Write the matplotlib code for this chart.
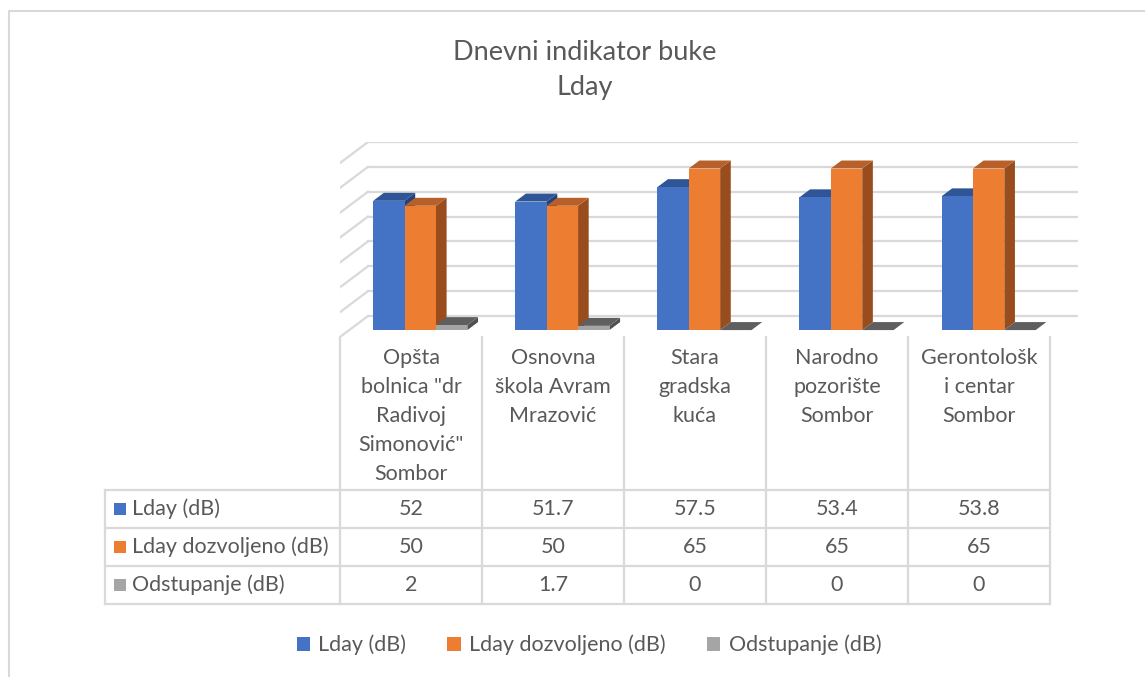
import numpy as np
import matplotlib
matplotlib.use("Agg")
import matplotlib.pyplot as plt
from matplotlib.patches import Polygon, Rectangle, Patch

plt.rcParams['font.family'] = ['Lato', 'DejaVu Sans']

# podaci
kategorije = ['Opšta\nbolnica "dr\nRadivoj\nSimonović"\nSombor',
              'Osnovna\nškola Avram\nMrazović',
              'Stara\ngradska\nkuća',
              'Narodno\npozorište\nSombor',
              'Gerontološk\ni centar\nSombor']
serije = ['Lday (dB)', 'Lday dozvoljeno (dB)', 'Odstupanje (dB)']
lday = [52, 51.7, 57.5, 53.4, 53.8]
lday_dozvoljeno = [50, 50, 65, 65, 65]
odstupanje = [2, 1.7, 0, 0, 0]
vrednosti = [lday, lday_dozvoljeno, odstupanje]

boje = ['#4472C4', '#ED7D31', '#A5A5A5']
boje_vrh = ['#2F5597', '#B8602A', '#5F5F5F']
boje_bok = ['#24427A', '#9A4D1C', '#505050']
tekst = '#595959'
linija = '#D9D9D9'
fs = 15.5

W, H = 1145, 677
fig = plt.figure(figsize=(W / 100, H / 100), dpi=100)

# pozadinska osa u pikselima (naslov, tabela, legenda)
bg = fig.add_axes([0, 0, 1, 1])
bg.set_xlim(0, W)
bg.set_ylim(H, 0)
bg.axis('off')
bg.plot([9, 9, W + 5], [H + 5, 11, 11], color=linija, lw=1.5)

bg.text(585, 52, 'Dnevni indikator buke', ha='center', va='center',
        fontsize=19.5, color=tekst)
bg.text(585, 88, 'Lday', ha='center', va='center',
        fontsize=19.5, color=tekst)

# 3D oblast grafika
DX = 0.197   # dubina u jedinicama kategorija
DY = 8.45    # dubina u dB
ymax = 70
ax = fig.add_axes([340 / W, (H - 337) / H, 738.4 / W, 195 / H])
ax.set_xlim(0, 5 + DX)
ax.set_ylim(0, ymax + DY)
ax.axis('off')

for g in range(0, ymax + 1, 10):
    ax.plot([DX, 5 + DX], [g + DY, g + DY], color=linija, lw=1.6, zorder=1)
    ax.plot([0, DX], [g, g + DY], color=linija, lw=1.6, zorder=1)

sirina = 0.221
z0, z1 = 0.33, 0.71
n = len(kategorije)
for c in range(n):
    start = c + 0.5 - 1.5 * sirina
    for s in range(len(serije)):
        v = vrednosti[s][c]
        x0 = start + s * sirina
        x1 = x0 + sirina
        fx0, fx1, fy = x0 + z0 * DX, x1 + z0 * DX, z0 * DY
        bx0, bx1, by = x0 + z1 * DX, x1 + z1 * DX, z1 * DY
        bok = [(fx1, fy), (bx1, by), (bx1, by + v), (fx1, fy + v)]
        vrh = [(fx0, fy + v), (fx1, fy + v), (bx1, by + v), (bx0, by + v)]
        ax.add_patch(Polygon(bok, closed=True, fc=boje_bok[s], ec='none', zorder=2 + c))
        ax.add_patch(Polygon(vrh, closed=True, fc=boje_vrh[s], ec='none', zorder=2 + c))
        ax.add_patch(Rectangle((fx0, fy), sirina, v, fc=boje[s], ec='none', zorder=2 + c))

# tabela podataka
kol_x = [340 + 142 * i for i in range(n + 1)]
red_y = [490, 528, 566, 604]
for x in kol_x:
    bg.plot([x, x], [337, 604], color=linija, lw=1.6)
bg.plot([105, 105], [490, 604], color=linija, lw=1.6)
for y in red_y:
    bg.plot([105, kol_x[-1]], [y, y], color=linija, lw=1.6)

for i, kat in enumerate(kategorije):
    cx = (kol_x[i] + kol_x[i + 1]) / 2
    bg.text(cx, 348, kat, ha='center', va='top', fontsize=fs,
            color=tekst, linespacing=1.57)

for s, ime in enumerate(serije):
    cy = (red_y[s] + red_y[s + 1]) / 2
    bg.add_patch(Rectangle((114, cy - 6), 12, 12, fc=boje[s], ec='none'))
    bg.text(132, cy, ime, ha='left', va='center', fontsize=fs, color=tekst)
    for i in range(n):
        cx = (kol_x[i] + kol_x[i + 1]) / 2
        bg.text(cx, cy, f'{vrednosti[s][i]:g}', ha='center', va='center',
                fontsize=fs, color=tekst)

# legenda
ruke = [Patch(fc=boje[s], ec='none', label=serije[s]) for s in range(3)]
bg.legend(handles=ruke, loc='center', bbox_to_anchor=(589 / W, 1 - 645 / H),
          ncol=3, frameon=False, fontsize=fs, handlelength=0.62,
          handleheight=0.62, handletextpad=0.4, columnspacing=1.9,
          labelcolor=tekst)

fig.savefig('out.png', dpi=100)
